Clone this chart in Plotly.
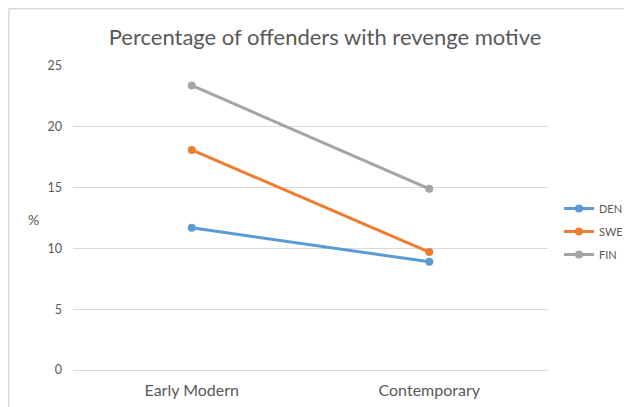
import plotly.graph_objects as go

O = 8                      # page body margin in the browser shifts the figure
W, H = 632 - O, 407 - O
L, T = 73 - O, 66 - O      # plot area in reference pixels: 73..548 x 66..370
PW, PH = 475, 304
R, B = W - L - PW, H - T - PH

categories = ["Early Modern", "Contemporary"]
den = [11.7, 8.9]
swe = [18.1, 9.7]
fin = [23.4, 14.9]
series = [("DEN", den, "#5B9BD5"), ("SWE", swe, "#ED7D31"), ("FIN", fin, "#A5A5A5")]

# reference pixel -> paper coords
def px(x): return (x - O - L) / PW
def py(y): return (T + PH - (y - O)) / PH

fig = go.Figure()
for name, vals, col in series:
    fig.add_trace(go.Scatter(
        x=categories, y=vals, name=name, mode="lines+markers", legendgroup=name,
        line=dict(color=col, width=3), marker=dict(color=col, size=8),
    ))

# outer chart border (left + top visible)
fig.add_shape(type="line", xref="paper", yref="paper", x0=px(8.8), x1=px(8.8), y0=py(8.8), y1=py(420),
              line=dict(color="#d9d9d9", width=1.5))
fig.add_shape(type="line", xref="paper", yref="paper", x0=px(8.8), x1=px(640), y0=py(8.8), y1=py(8.8),
              line=dict(color="#d9d9d9", width=1.5))

fig.add_annotation(x=px(33), y=py(219), xref="paper", yref="paper", text="%", showarrow=False,
                   xanchor="center", yanchor="middle", font=dict(size=14, color="#595959"))

fig.update_layout(
    width=W, height=H, margin=dict(l=L, r=R, t=T, b=B, autoexpand=False),
    paper_bgcolor="white", plot_bgcolor="white",
    font=dict(family="Lato, Arial, sans-serif", color="#595959", size=12),
    title=dict(text="Percentage of offenders with revenge motive", xref="paper", x=px(325),
               xanchor="center", yref="container", y=1 - (37 - O) / H, yanchor="middle",
               font=dict(size=22, color="#595959")),
    xaxis=dict(showgrid=False, zeroline=False, showline=False, ticks="", ticklabelstandoff=9,
               tickfont=dict(size=16, color="#595959"), range=[-0.5, 1.5], automargin=False),
    yaxis=dict(range=[0, 25], dtick=5, showgrid=True, gridcolor="#d9d9d9", gridwidth=1.3,
               zeroline=True, zerolinecolor="#d9d9d9", zerolinewidth=1.3,
               showline=False, ticks="", ticklabelstandoff=10, automargin=False,
               tickfont=dict(size=12.5, color="#595959")),
    legend=dict(x=px(559), y=py(194), xanchor="left", yanchor="top",
                font=dict(size=11, color="#595959"), itemwidth=30, tracegroupgap=4,
                bgcolor="rgba(0,0,0,0)"),
    showlegend=True,
)

fig.write_html("out.html")
